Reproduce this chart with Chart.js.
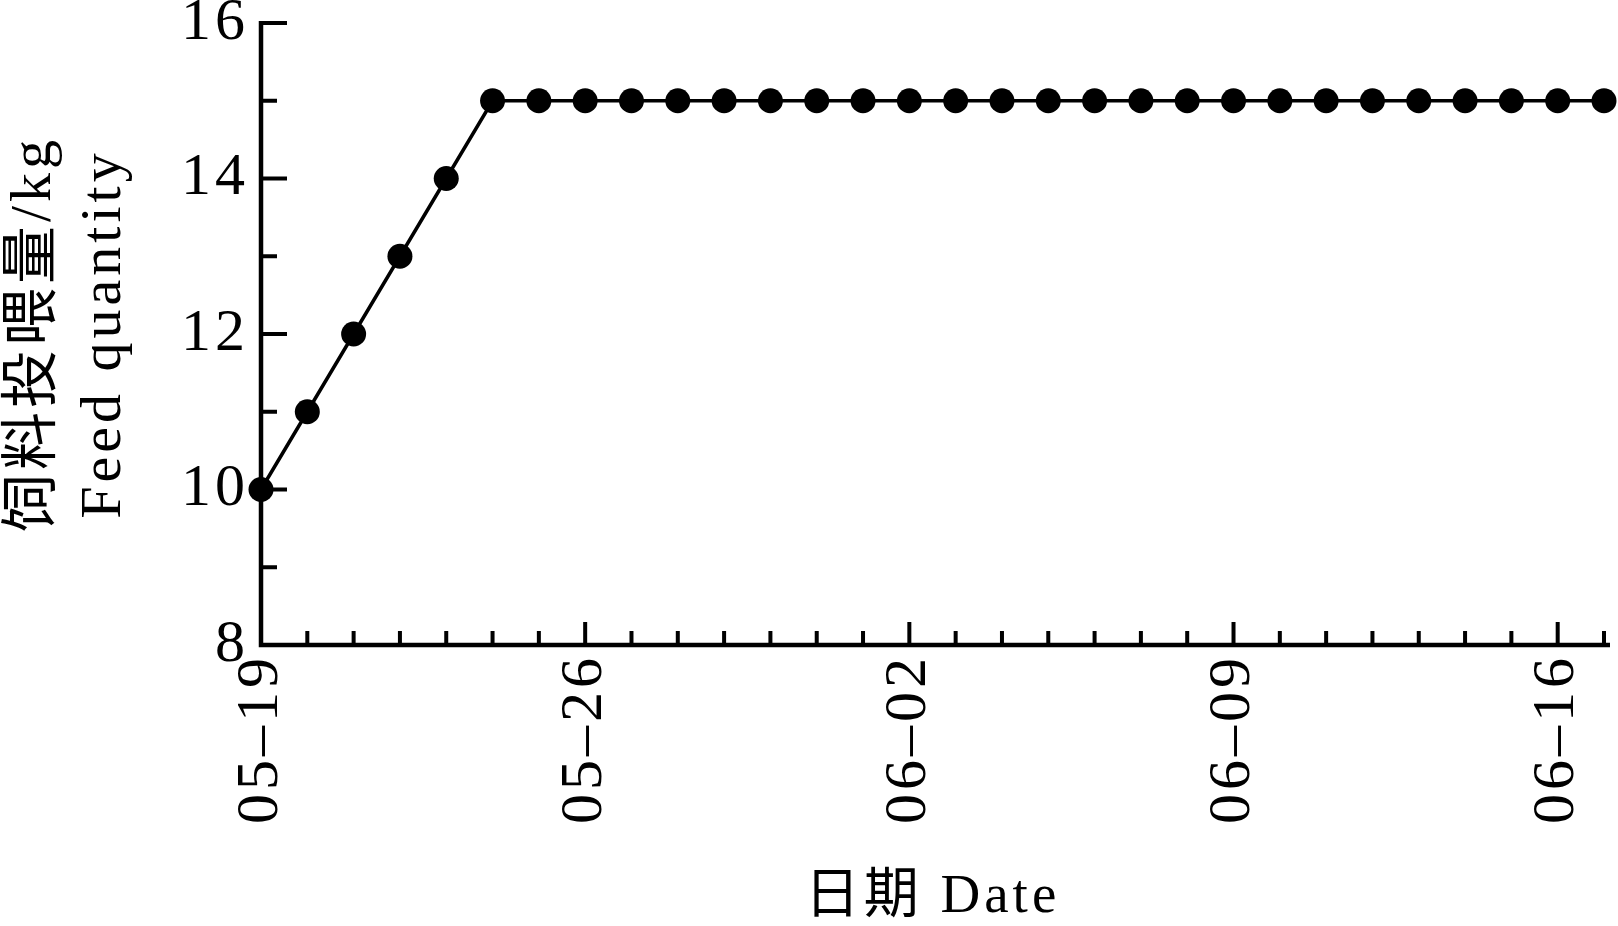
<!DOCTYPE html>
<html>
<head>
<meta charset="utf-8">
<script src="https://cdn.jsdelivr.net/npm/chart.js@4"></script>
<style>
  html, body { margin: 0; padding: 0; background: #fff; }
  #wrap { width: 1618px; height: 926px; }
</style>
</head>
<body>
<div id="wrap"><canvas id="c" width="1618" height="926"></canvas></div>
<script>
// dates (month-day), one point per day
const dates = [
  "05–19", "05–20", "05–21", "05–22", "05–23", "05–24", "05–25",
  "05–26", "05–27", "05–28", "05–29", "05–30", "05–31", "06–01",
  "06–02", "06–03", "06–04", "06–05", "06–06", "06–07", "06–08",
  "06–09", "06–10", "06–11", "06–12", "06–13", "06–14", "06–15",
  "06–16", "06–17"
];
// feed quantity, kg
const feed = [
  10, 11, 12, 13, 14, 15, 15,
  15, 15, 15, 15, 15, 15, 15,
  15, 15, 15, 15, 15, 15, 15,
  15, 15, 15, 15, 15, 15, 15,
  15, 15
];
const yTicks = [8, 10, 12, 14, 16];
const yMinor = [9, 11, 13, 15];
const labelEvery = 7;

const serif = "'Liberation Serif', 'Noto Sans CJK SC', serif";

// the printed figure has loosely spaced letters
const spacing = {
  id: "spacing",
  beforeInit(chart) { chart.ctx.letterSpacing = "4px"; },
  beforeUpdate(chart) { chart.ctx.letterSpacing = "4px"; },
  beforeDraw(chart) { chart.ctx.letterSpacing = "4px"; }
};

// axes drawn by hand: ticks point inward like the original figure
const inwardAxes = {
  id: "inwardAxes",
  beforeDatasetsDraw(chart) {
    const { ctx, chartArea: a, scales: { x, y } } = chart;
    ctx.save();
    ctx.strokeStyle = "#000";
    ctx.lineCap = "butt";

    ctx.lineWidth = 4.5;
    ctx.beginPath();
    ctx.moveTo(a.left, y.getPixelForValue(16) - 2);
    ctx.lineTo(a.left, a.bottom);
    ctx.lineTo(a.right + 6, a.bottom);
    ctx.stroke();

    ctx.lineWidth = 4;
    ctx.beginPath();
    yTicks.forEach((v) => {
      const py = y.getPixelForValue(v);
      ctx.moveTo(a.left, py);
      ctx.lineTo(a.left + 26, py);
    });
    yMinor.forEach((v) => {
      const py = y.getPixelForValue(v);
      ctx.moveTo(a.left, py);
      ctx.lineTo(a.left + 16, py);
    });
    dates.forEach((d, i) => {
      const px = x.getPixelForValue(i);
      const len = i % labelEvery === 0 ? 23 : 14;
      ctx.moveTo(px, a.bottom);
      ctx.lineTo(px, a.bottom - len);
    });
    ctx.stroke();
    ctx.restore();
  }
};

function noPad(s) {
  s.paddingTop = 0;
  s.paddingBottom = 0;
  s.paddingLeft = 0;
  s.paddingRight = 0;
}

new Chart(document.getElementById("c"), {
  type: "line",
  data: {
    labels: dates,
    datasets: [{
      data: feed,
      borderColor: "#000",
      borderWidth: 3.5,
      backgroundColor: "#000",
      pointBackgroundColor: "#000",
      pointBorderWidth: 0,
      pointRadius: 12.5,
      tension: 0,
      clip: false
    }]
  },
  options: {
    responsive: false,
    devicePixelRatio: 1,
    animation: false,
    layout: { padding: { top: 23, right: 14, bottom: 0, left: 0 } },
    plugins: { legend: { display: false }, tooltip: { enabled: false } },
    scales: {
      x: {
        type: "category",
        offset: false,
        grid: { display: false, drawTicks: false },
        border: { display: false },
        afterFit(s) { s.height = 281; noPad(s); },
        ticks: {
          autoSkip: false,
          minRotation: 90,
          maxRotation: 90,
          padding: 9,
          color: "#000",
          font: { family: serif, size: 60, lineHeight: 1 },
          callback(v, i) { return i % labelEvery === 0 ? dates[i] : ""; }
        },
        title: {
          display: true,
          text: "日期 Date",
          color: "#000",
          font: { family: serif, size: 55, lineHeight: 1 },
          padding: { top: 0, bottom: 1 }
        }
      },
      y: {
        min: 8,
        max: 16,
        grid: { display: false, drawTicks: false },
        border: { display: false },
        afterFit(s) { s.width = 261; noPad(s); },
        ticks: {
          stepSize: 2,
          padding: 12,
          color: "#000",
          font: { family: serif, size: 60, lineHeight: 0.7 }
        },
        title: {
          display: true,
          text: ["饲料投喂量/kg", "Feed quantity"],
          color: "#000",
          font: { family: serif, size: 58, lineHeight: 1.2 },
          padding: { top: 0, bottom: 0 }
        }
      }
    }
  },
  plugins: [spacing, inwardAxes]
});
</script>
</body>
</html>
